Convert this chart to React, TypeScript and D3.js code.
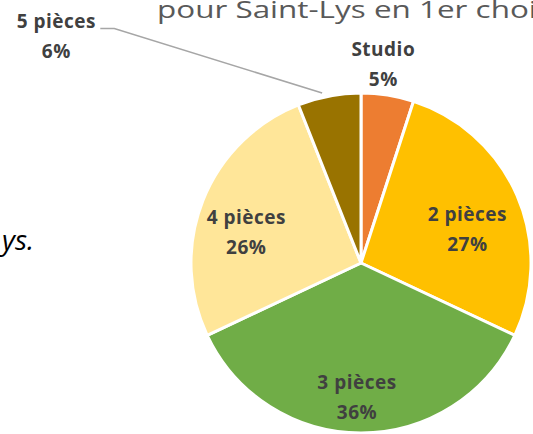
import React from "react";
import * as d3 from "d3";

const categories = ["Studio", "2 pièces", "3 pièces", "4 pièces", "5 pièces"];
const values = [5, 27, 36, 26, 6];
const colors = ["#ED7D31", "#FFC000", "#70AD47", "#FFE699", "#997300"];
const titleText = "pour Saint-Lys en 1er choix";
const sideText = "ys.";

const W = 533;
const H = 434;
const cx = 361;
const cy = 263;
const R = 170;
// label nudges from centroid (Excel "best fit" placement)
const labelShift: [number, number][] = [
  [5, -93],
  [5, 7],
  [-4, 20],
  [-12, 7],
  [-284, -121],
];

export default function App() {
  const pie = d3
    .pie<number>()
    .sort(null)
    .value((d) => d)
    .startAngle(0)
    .endAngle(2 * Math.PI);
  const arcs = pie(values);
  const arc = d3.arc<d3.PieArcDatum<number>>().innerRadius(0).outerRadius(R);
  const labelArc = d3
    .arc<d3.PieArcDatum<number>>()
    .innerRadius(R * 0.65)
    .outerRadius(R * 0.65);
  const total = d3.sum(values);
  const fmt = (v: number) => `${Math.round((v / total) * 100)}%`;

  const labelFont = "'Open Sans', sans-serif";

  return (
    <svg
      width={W}
      height={H}
      style={{ position: "absolute", left: 0, top: 0, background: "#fff" }}
    >
      <text
        transform="translate(157,18) scale(1.31,1)"
        fontFamily="'Open Sans', sans-serif"
        fontSize={24}
        fill="#595959"
      >
        {titleText}
      </text>
      <text
        x={2}
        y={250}
        fontFamily="'Open Sans', sans-serif"
        fontStyle="italic"
        fontSize={28}
        fill="#000"
      >
        {sideText}
      </text>
      <g transform={`translate(${cx},${cy})`}>
        {arcs.map((a, i) => (
          <path
            key={categories[i]}
            d={arc(a) || ""}
            fill={colors[i]}
            stroke="#fff"
            strokeWidth={3}
            strokeLinejoin="round"
          />
        ))}
        {arcs.map((a, i) => {
          const [x0, y0] = labelArc.centroid(a);
          const x = x0 + labelShift[i][0];
          const y = y0 + labelShift[i][1];
          return (
            <text
              key={"l" + i}
              x={x}
              y={y}
              textAnchor="middle"
              fontFamily={labelFont}
              fontWeight={700}
              fontSize={19}
              letterSpacing={0.5}
              fill="#404040"
            >
              <tspan x={x} dy={-5}>
                {categories[i]}
              </tspan>
              <tspan x={x} dy={30}>
                {fmt(values[i])}
              </tspan>
            </text>
          );
        })}
        {(() => {
          const i = 4;
          const a = arcs[i];
          const mid = (a.startAngle + a.endAngle) / 2;
          const ex = Math.sin(mid) * R;
          const ey = -Math.cos(mid) * R;
          const [x0, y0] = labelArc.centroid(a);
          const lx = x0 + labelShift[i][0] + 44;
          const ly = y0 + labelShift[i][1] - 5;
          const pts: [number, number][] = [
            [lx, ly],
            [lx + 14, ly],
            [ex - 7, ey - 3],
          ];
          return (
            <path
              d={d3.line()(pts) || ""}
              fill="none"
              stroke="#A6A6A6"
              strokeWidth={1.5}
            />
          );
        })()}
      </g>
    </svg>
  );
}
